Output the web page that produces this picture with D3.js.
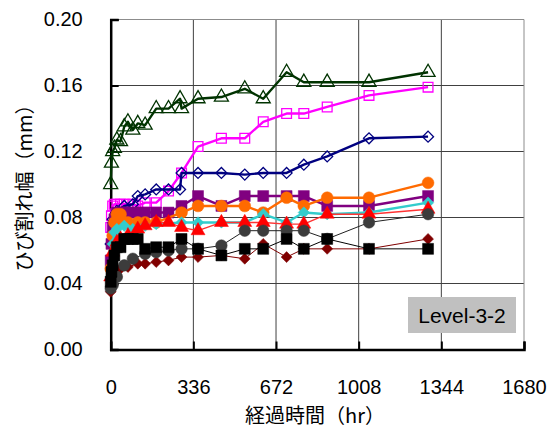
<!DOCTYPE html>
<html>
<head>
<meta charset="utf-8">
<script src="https://cdn.jsdelivr.net/npm/d3@7"></script>
<style>
  body { margin: 0; background: #fff; }
  text { font-family: "Noto Sans CJK JP", "Liberation Sans", sans-serif; }
</style>
</head>
<body>
<div id="chart-area"></div>
<script>
// elapsed time (hr) shared by all series
var hours = [0, 3, 8, 15, 25, 40, 55, 70, 90, 110, 140, 185, 235, 282, 288, 355, 450, 545, 620, 715, 785, 880, 1050, 1290];

// crack width (mm), null = no reading at that time
var greenTri   = [0.100, 0.113, 0.120, 0.122, 0.127, 0.126, 0.135, 0.138, 0.133, 0.137, 0.136, 0.146, 0.146, 0.152, 0.146, 0.152, 0.153, 0.158, 0.152, 0.168, 0.162, 0.162, 0.162, 0.168];
var magentaSq  = [0.074, 0.081, 0.087, 0.088, 0.088, 0.088, 0.088, 0.088, 0.088, 0.087, 0.089, 0.089, 0.096, null, 0.107, 0.123, 0.128, 0.128, 0.138, 0.143, 0.143, 0.147, 0.154, 0.159];
var navyDia    = [0.064, null, 0.079, null, 0.084, null, 0.087, null, 0.088, 0.093, 0.094, 0.097, 0.097, 0.097, 0.107, 0.107, 0.107, 0.106, 0.107, 0.107, 0.112, 0.117, 0.128, 0.129];
var purpleSq   = [0.054, 0.064, 0.074, 0.079, 0.083, 0.083, 0.083, 0.083, 0.083, 0.083, 0.083, 0.083, 0.083, null, 0.087, 0.093, 0.087, 0.093, 0.093, 0.093, 0.093, 0.087, 0.087, 0.093];
var orangeCir  = [0.049, null, 0.069, 0.077, 0.082, 0.082, 0.077, 0.077, null, 0.077, 0.077, 0.077, null, null, 0.083, 0.087, 0.087, 0.087, 0.083, 0.092, 0.087, 0.092, 0.092, 0.101];
var turqDia    = [0.044, null, 0.064, 0.071, 0.073, null, 0.075, null, 0.073, null, 0.075, 0.076, null, null, 0.077, 0.077, 0.077, 0.077, 0.082, 0.077, 0.083, 0.082, 0.083, 0.089];
var redTri     = [0.044, null, 0.059, null, 0.065, 0.067, null, 0.069, null, 0.073, 0.075, 0.077, 0.077, null, 0.074, 0.072, 0.077, 0.077, 0.077, 0.076, 0.076, 0.082, 0.082, 0.085];
var darkRedDia = [0.035, null, 0.039, null, 0.044, 0.049, null, 0.050, null, 0.052, 0.052, 0.053, 0.054, null, 0.056, 0.056, 0.057, 0.055, 0.064, 0.056, 0.061, 0.061, 0.061, 0.067];
var grayCir    = [0.037, null, 0.039, null, 0.044, null, 0.051, null, 0.055, null, 0.058, 0.059, 0.060, null, 0.061, 0.061, 0.063, 0.072, 0.072, 0.072, 0.072, 0.067, 0.077, 0.082];
var blackSq    = [0.041, 0.047, 0.051, 0.057, 0.062, 0.062, 0.067, 0.067, 0.067, 0.067, 0.061, 0.062, 0.062, null, 0.067, 0.061, 0.057, 0.061, 0.061, 0.067, 0.061, 0.067, 0.061, 0.061];

var xTicks = [0, 336, 672, 1008, 1344, 1680];
var yTicks = [0, 0.04, 0.08, 0.12, 0.16, 0.20];
var yTitle = "ひび割れ幅（mm）";
var xTitle = "経過時間（hr）";
var boxLabel = "Level-3-2";

// draw order matters: later series sit on top
var series = [
    { vals: greenTri,   color: "#003300", line: "#003300", lw: 2.4, shape: "tri",  open: true,  size: 85 },
    { vals: magentaSq,  color: "#ff00ff", line: "#ff00ff", lw: 2.4, shape: "sq",   open: true,  size: 95 },
    { vals: navyDia,    color: "#000080", line: "#000080", lw: 2.4, shape: "dia",  open: true,  size: 60 },
    { vals: purpleSq,   color: "#800080", line: "#800080", lw: 2.4, shape: "sq",   open: false, size: 120 },
    { vals: orangeCir,  color: "#ff6a00", line: "#ff6a00", lw: 2.4, shape: "cir",  open: false, size: 110 },
    { vals: turqDia,    color: "#33cccc", line: "#33cccc", lw: 2.4, shape: "dia",  open: false, size: 65 },
    { vals: redTri,     color: "#ff0000", line: "#ff3333", lw: 1.4, shape: "tri",  open: false, size: 85 },
    { vals: darkRedDia, color: "#800000", line: "#800000", lw: 1,   shape: "dia",  open: false, size: 60 },
    { vals: grayCir,    color: "#3c3c3c", line: "#222222", lw: 1,   shape: "cir",  open: false, size: 105 },
    { vals: blackSq,    color: "#000000", line: "#000000", lw: 1,   shape: "sq",   open: false, size: 120 }
];

var W = 550, H = 429;
var plotL = 110.7, plotR = 524, plotT = 19.5, plotB = 349.5;

var svg = d3.select("#chart-area").append("svg")
    .attr("width", W)
    .attr("height", H);

var x = d3.scaleLinear().domain([0, 1680]).range([plotL, plotR]);
var y = d3.scaleLinear().domain([0, 0.2]).range([plotB, plotT]);

// grid
svg.append("g").selectAll("line")
    .data(yTicks.slice(1, -1))
    .enter().append("line")
    .attr("x1", plotL).attr("x2", plotR)
    .attr("y1", function(d){ return y(d); })
    .attr("y2", function(d){ return y(d); })
    .attr("stroke", "#404040").attr("stroke-width", 1);

svg.append("g").selectAll("line")
    .data(xTicks.slice(1, -1))
    .enter().append("line")
    .attr("x1", function(d){ return x(d); })
    .attr("x2", function(d){ return x(d); })
    .attr("y1", plotT).attr("y2", plotB)
    .attr("stroke", "#404040").attr("stroke-width", 1);

// top and right border
svg.append("path")
    .attr("d", "M" + plotL + "," + plotT + "H" + plotR + "V" + plotB)
    .attr("fill", "none").attr("stroke", "#8c8c8c").attr("stroke-width", 1);

// label box (covers the grid behind it)
svg.append("rect")
    .attr("x", 408).attr("y", 297)
    .attr("width", 108).attr("height", 36)
    .attr("fill", "#c0c0c0");
svg.append("text")
    .attr("x", 462).attr("y", 315)
    .attr("text-anchor", "middle")
    .attr("dominant-baseline", "central")
    .attr("font-size", "21px")
    .attr("fill", "#000")
    .style("font-family", "'Liberation Sans', sans-serif")
    .text(boxLabel);

// axes
var yAxis = d3.axisLeft(y).tickValues(yTicks).tickSize(-8).tickPadding(28)
    .tickFormat(d3.format(".2f"));
var xAxis = d3.axisBottom(x).tickValues(xTicks).tickSize(-8).tickPadding(30)
    .tickFormat(d3.format("d"));

var gy = svg.append("g")
    .attr("transform", "translate(" + plotL + ",0)")
    .call(yAxis);
var gx = svg.append("g")
    .attr("transform", "translate(0," + plotB + ")")
    .call(xAxis);

[gx, gy].forEach(function(g){
    g.select(".domain").attr("stroke", "#000").attr("stroke-width", 2.5);
    g.selectAll(".tick line").attr("stroke", "#000").attr("stroke-width", 2);
    g.selectAll(".tick text")
        .attr("font-size", "20px")
        .attr("fill", "#000")
        .style("font-family", "'Liberation Sans', sans-serif");
});

// series
var symbols = {
    tri: d3.symbolTriangle,
    sq: d3.symbolSquare,
    dia: d3.symbolSquare,
    cir: d3.symbolCircle
};

var line = d3.line()
    .x(function(d){ return x(d[0]); })
    .y(function(d){ return y(d[1]); });

series.forEach(function(s){
    var pts = hours.map(function(h, i){ return [h, s.vals[i]]; })
        .filter(function(d){ return d[1] != null; });

    var g = svg.append("g");
    g.append("path")
        .datum(pts)
        .attr("d", line)
        .attr("fill", "none")
        .attr("stroke", s.line)
        .attr("stroke-width", s.lw)
        .attr("stroke-linejoin", "round");

    var sym = d3.symbol().type(symbols[s.shape]).size(s.size);
    g.selectAll("path.mk")
        .data(pts)
        .enter().append("path")
        .attr("class", "mk")
        .attr("d", sym)
        .attr("transform", function(d){
            var t = "translate(" + x(d[0]) + "," + y(d[1]) + ")";
            return s.shape == "dia" ? t + " rotate(45)" : t;
        })
        .attr("fill", s.open ? "none" : s.color)
        .attr("stroke", s.color)
        .attr("stroke-width", s.open ? 1.3 : 0.5);
});

// axis titles
svg.append("text")
    .attr("transform", "translate(23,183) rotate(-90)")
    .attr("text-anchor", "middle")
    .attr("dominant-baseline", "central")
    .attr("font-size", "20px")
    .attr("fill", "#000")
    .text(yTitle);

svg.append("text")
    .attr("x", 315).attr("y", 414)
    .attr("text-anchor", "middle")
    .attr("dominant-baseline", "central")
    .attr("font-size", "20px")
    .attr("fill", "#000")
    .text(xTitle);
</script>
</body>
</html>
